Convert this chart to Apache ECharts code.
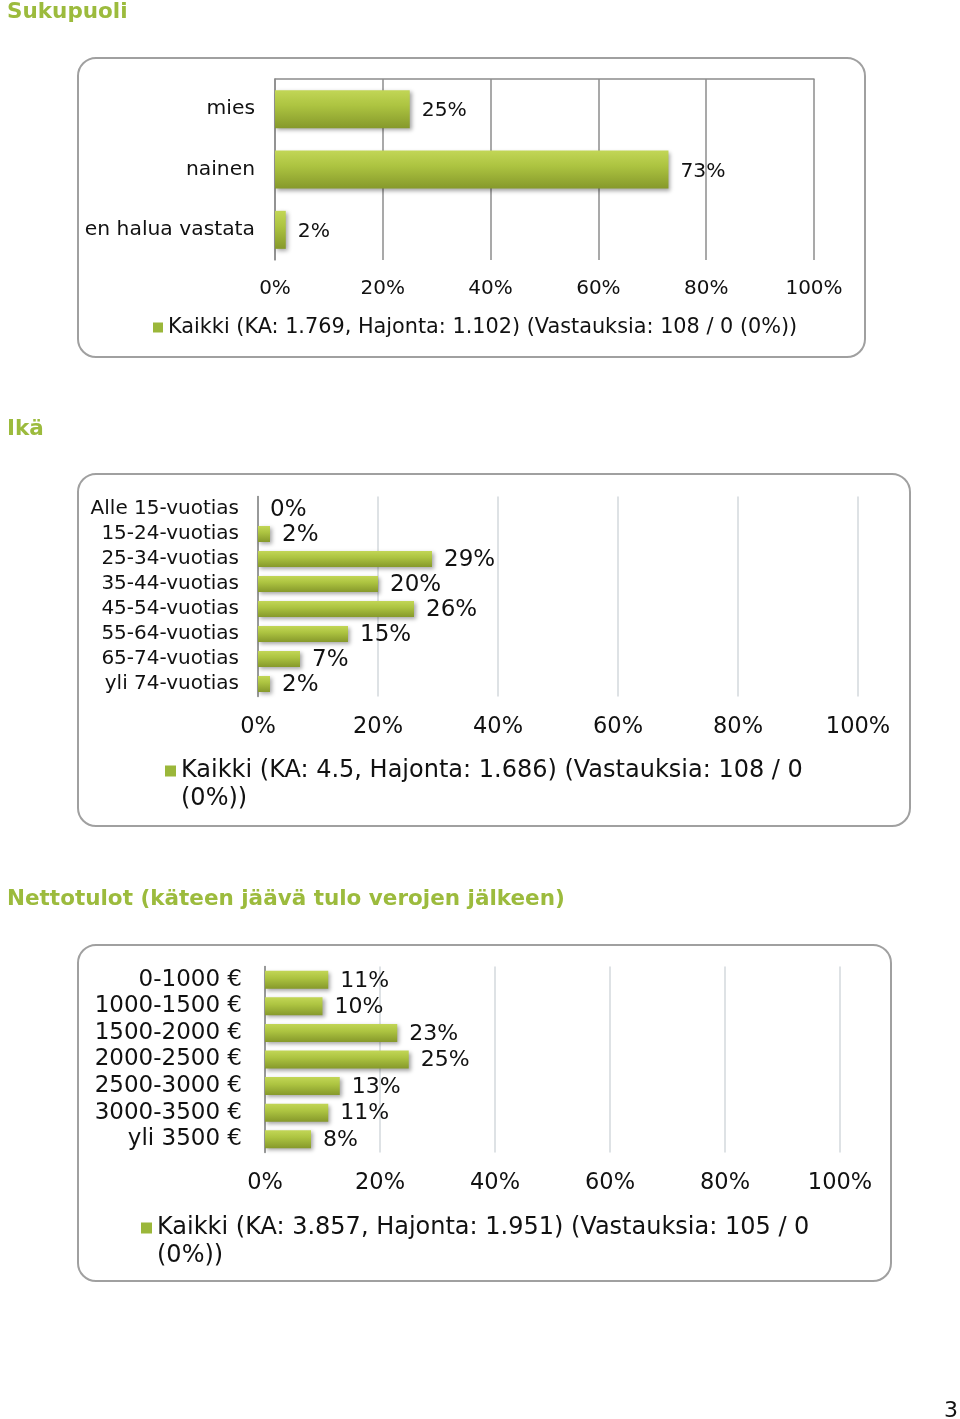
<!DOCTYPE html>
<html><head><meta charset="utf-8">
<script src="https://cdn.jsdelivr.net/npm/echarts@6/dist/echarts.min.js"></script>
<style>html,body{margin:0;padding:0;background:#fff}#c{width:960px;height:1419px}</style>
</head><body><div id="c"></div>
<script>
const sectionTitles = ['Sukupuoli', 'Ikä', 'Nettotulot (käteen jäävä tulo verojen jälkeen)'];
const genderCategories = ['mies', 'nainen', 'en halua vastata'];
const genderValues = [25, 73, 2];
const genderLegend = 'Kaikki (KA: 1.769, Hajonta: 1.102) (Vastauksia: 108 / 0 (0%))';
const ageCategories = ['Alle 15-vuotias', '15-24-vuotias', '25-34-vuotias', '35-44-vuotias', '45-54-vuotias', '55-64-vuotias', '65-74-vuotias', 'yli 74-vuotias'];
const ageValues = [0, 2, 29, 20, 26, 15, 7, 2];
const ageLegend = 'Kaikki (KA: 4.5, Hajonta: 1.686) (Vastauksia: 108 / 0 (0%))';
const incomeCategories = ['0-1000 €', '1000-1500 €', '1500-2000 €', '2000-2500 €', '2500-3000 €', '3000-3500 €', 'yli 3500 €'];
const incomeValues = [11, 10, 23, 25, 13, 11, 8];
const incomeLegend = 'Kaikki (KA: 3.857, Hajonta: 1.951) (Vastauksia: 105 / 0 (0%))';
const percentTickMax = 100;
const percentTickStep = 20;
const pageNumber = '3';

const FONT = 'DejaVu Sans';
const TXT = '#111';
const GREEN_T = '#9cbb3d';

const chart = echarts.init(document.getElementById('c'), null, {renderer: 'canvas'});

function grad() {
  return new echarts.graphic.LinearGradient(0, 0, 0, 1, [
    {offset: 0, color: '#c2d656'},
    {offset: 0.4, color: '#adc441'},
    {offset: 1, color: '#86992b'}
  ]);
}
function pctAxis(gi, fs, margin, grid) {
  return {
    type: 'value', gridIndex: gi, min: 0, max: percentTickMax, interval: percentTickStep,
    axisLine: {show: false}, axisTick: {show: false},
    axisLabel: {formatter: v => v + '%', fontSize: fs, color: TXT, fontFamily: FONT, margin: margin},
    splitLine: {show: true, lineStyle: grid}
  };
}
function catAxis(gi, cats, fs, margin, lineColor) {
  return {
    type: 'category', gridIndex: gi, data: cats, inverse: true,
    axisLine: {show: true, lineStyle: {color: lineColor, width: 1.5}},
    axisTick: {show: false},
    axisLabel: {interval: 0, fontSize: fs, color: TXT, fontFamily: FONT, margin: margin}
  };
}
function bars(name, data, idx, bw, fs, dy) {
  return {
    type: 'bar', name: name, data: data, xAxisIndex: idx, yAxisIndex: idx, barWidth: bw,
    silent: true,
    itemStyle: {color: grad(), shadowColor: 'rgba(0,0,0,0.35)', shadowBlur: 4, shadowOffsetX: 2, shadowOffsetY: 2},
    label: {show: true, position: 'right', distance: 12, offset: [0, dy || 0], formatter: '{c}%', fontSize: fs, color: TXT, fontFamily: FONT}
  };
}
const iconPath = 'path://M0,0L11,0L11,11L0,11Z M0,39L0.01,39L0,38.99Z';
function legendOf(name, left, top, w, h, icon, fs, lh) {
  return {
    data: [name], left: left, top: top, padding: 0, itemWidth: w, itemHeight: h, icon: icon,
    selectedMode: false, orient: 'horizontal',
    itemStyle: {color: '#9bb73a', borderWidth: 0, shadowBlur: 0, shadowColor: 'rgba(0,0,0,0)'},
    formatter: n => n.replace(/ \(0%\)\)$/, lh ? '\n(0%))' : ' (0%))'),
    textStyle: {fontSize: fs, color: TXT, fontFamily: FONT, lineHeight: lh || fs}
  };
}

const option = {
  animation: false,
  textStyle: {fontFamily: FONT},
  title: [
    {text: sectionTitles[0], left: 7, top: 1, padding: 0, textStyle: {fontFamily: FONT, fontWeight: 'bold', fontSize: 21.5, color: GREEN_T}},
    {text: sectionTitles[1], left: 7, top: 418, padding: 0, textStyle: {fontFamily: FONT, fontWeight: 'bold', fontSize: 21.5, color: GREEN_T}},
    {text: sectionTitles[2], left: 7, top: 888.5, padding: 0, textStyle: {fontFamily: FONT, fontWeight: 'bold', fontSize: 21.5, color: GREEN_T}},
    {text: pageNumber, left: 944, top: 1400, padding: 0, textStyle: {fontFamily: FONT, fontWeight: 'normal', fontSize: 22, color: TXT}}
  ],
  graphic: [
    {type: 'rect', silent: true, z: 0, shape: {x: 78, y: 58, width: 787, height: 299, r: 18}, style: {fill: 'none', stroke: '#a0a0a0', lineWidth: 2}},
    {type: 'rect', silent: true, z: 0, shape: {x: 78, y: 474, width: 832, height: 352, r: 18}, style: {fill: 'none', stroke: '#a0a0a0', lineWidth: 2}},
    {type: 'rect', silent: true, z: 0, shape: {x: 78, y: 945, width: 813, height: 336, r: 18}, style: {fill: 'none', stroke: '#a0a0a0', lineWidth: 2}}
  ],
  grid: [
    {left: 275, width: 539, top: 79, height: 181},
    {left: 258, width: 600, top: 496.5, height: 200},
    {left: 265, width: 575, top: 966.5, height: 186}
  ],
  xAxis: [
    pctAxis(0, 20, 19, {color: '#8c8c8c', width: 1.5}),
    pctAxis(1, 22.5, 19, {color: '#d3d8dc', width: 1.5}),
    pctAxis(2, 22.5, 19.5, {color: '#d3d8dc', width: 1.5}),
    {type: 'value', gridIndex: 0, position: 'top', min: 0, max: percentTickMax,
     axisLine: {show: true, lineStyle: {color: '#8c8c8c', width: 1.5}}, axisTick: {show: false},
     axisLabel: {show: false}, splitLine: {show: false}}
  ],
  yAxis: [
    catAxis(0, genderCategories, 20.3, 20, '#8c8c8c'),
    catAxis(1, ageCategories, 20, 19, '#808080'),
    catAxis(2, incomeCategories, 23, 23, '#808080')
  ],
  legend: [
    legendOf(genderLegend, 153, 317, 10, 10, 'rect', 20.8, 0),
    legendOf(ageLegend, 165, 757, 11, 39, iconPath, 24, 28),
    legendOf(incomeLegend, 141, 1214, 11, 39, iconPath, 24, 28)
  ],
  series: [
    bars(genderLegend, genderValues, 0, 38, 20.3, 2),
    bars(ageLegend, ageValues, 1, 16, 23, 1),
    bars(incomeLegend, incomeValues, 2, 18, 22, 1)
  ]
};
chart.setOption(option);
</script>
</body></html>
